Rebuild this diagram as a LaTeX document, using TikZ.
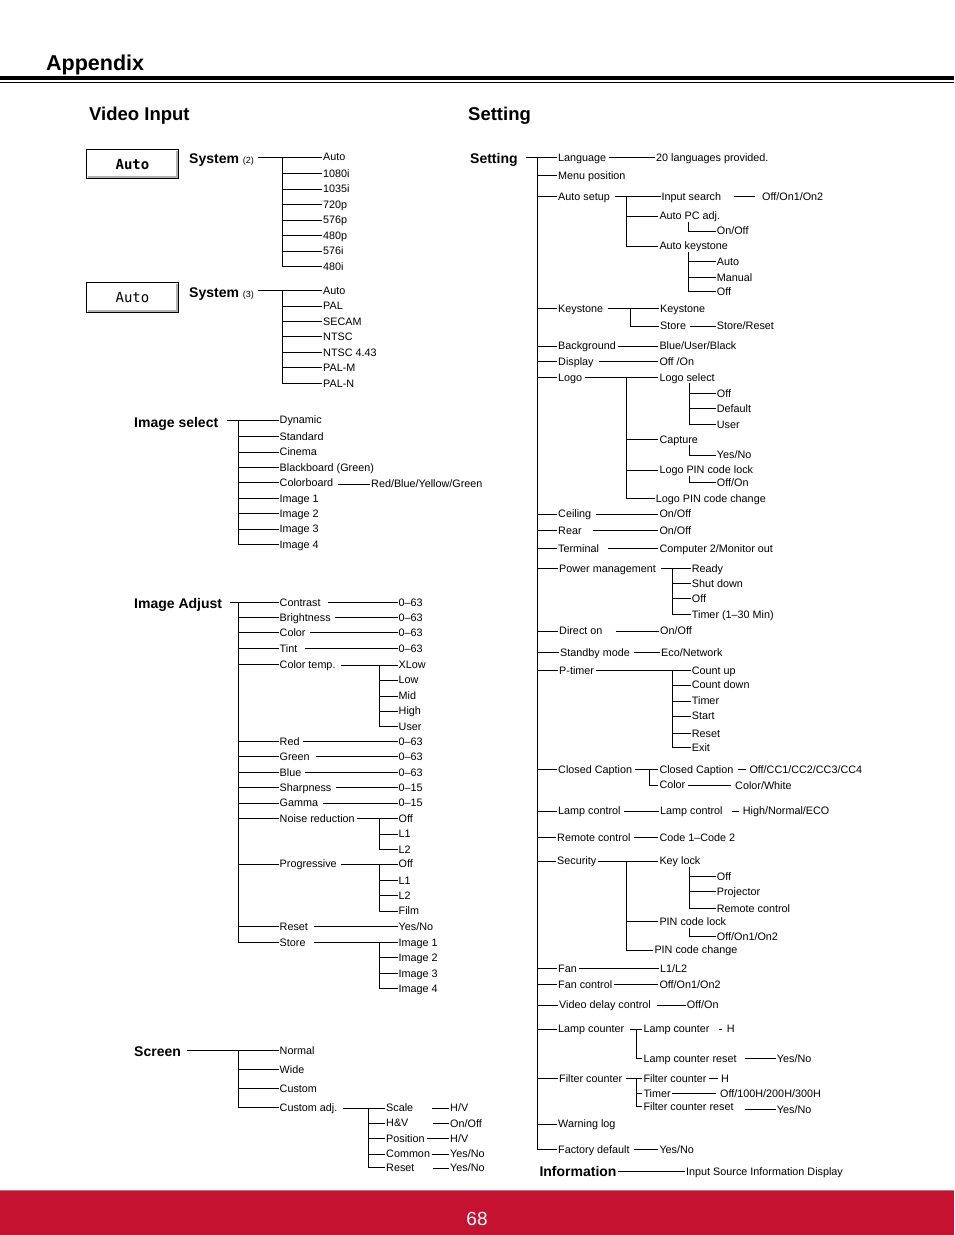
\documentclass[tikz,border=0pt]{standalone}
\usepackage{fontspec}
\setmainfont{Liberation Sans}
\newfontfamily\boxfont{DejaVu Sans Mono}
\definecolor{footred}{HTML}{C41230}
\newcommand\T[4]{\node[lab] (#1) at (#2,#3) {#4};}
\newcommand\lk[3][3]{\draw[ln] (#3.west -| #2.east) ++(#1pt,0) -- (#3.west);}
\newcommand\lkd[4]{\draw[ln] (#4.west -| #3.east) ++(#1pt,0) -- ([xshift=-#2pt]#4.west);}
\newcommand\fk[3]{\coordinate (fkc) at (#1,0);\foreach \ch in {#3}{\draw[ln] (fkc |- #2.west) |- (\ch.west);}}
\newcommand\lf[3]{\coordinate (fkc) at (#1,0);\foreach \ch in {#3}{\draw[ln] (fkc |- #2.south) |- (\ch.west);}}
\begin{document}
\begin{tikzpicture}[x=1pt,y=-1pt,
 lab/.style={anchor=west,xshift=-1pt,inner xsep=1pt,inner ysep=0pt,text height=9.7pt,text depth=2pt,font=\fontsize{10.8}{12}\selectfont},
 hd/.style={anchor=west,inner xsep=0pt,inner ysep=0pt,text height=12pt,text depth=2pt,font=\bfseries\fontsize{14}{16}\selectfont},
 ln/.style={line width=0.8pt},
 ttl/.style={anchor=west,inner sep=0pt,font=\bfseries\fontsize{18.5}{20}\selectfont},
 autobox/.style={minimum width=91pt,minimum height=28pt,inner sep=0pt,fill=white}]
\useasboundingbox (0,0) rectangle (954,1235);
% header
\node[anchor=west,inner sep=0pt,font=\bfseries\fontsize{21.5}{24}\selectfont] (appx) at (46,65) {Appendix};
\fill (0,76) rectangle (954,80);
\fill (0,81.6) rectangle (954,83);
\node[ttl] (vi) at (89,116) {Video Input};
\node[ttl] (st) at (468,116) {Setting};
% boxes
\node[autobox,font=\boxfont\bfseries\fontsize{14}{16}\selectfont] (box1) at (132.5,164) {Auto};
\node[autobox,minimum height=29pt,font=\boxfont\fontsize{14}{16}\selectfont] (box2) at (132.5,297.5) {Auto};
\foreach \b in {box1,box2}{
 \draw[line width=0.7pt] (\b.south west) rectangle (\b.north east);
 \draw[gray!60,line width=2pt] ([shift={(1pt,1pt)}]\b.south west) -| ([shift={(-1pt,-1pt)}]\b.north east);}
% System (2)
\node[hd] (sys2) at (189,158.7) {System {\mdseries\fontsize{9}{10}\selectfont(2)}};
\T{s2a}{323}{157}{Auto}\T{s2b}{323}{173.3}{1080i}\T{s2c}{323}{189}{1035i}\T{s2d}{323}{204.3}{720p}
\T{s2e}{323}{220}{576p}\T{s2f}{323}{235.7}{480p}\T{s2g}{323}{251}{576i}\T{s2h}{323}{266.7}{480i}
\lk[4]{sys2}{s2a}\fk{282.5}{s2a}{s2a,s2b,s2c,s2d,s2e,s2f,s2g,s2h}
% System (3)
\node[hd] (sys3) at (189,292) {System {\mdseries\fontsize{9}{10}\selectfont(3)}};
\T{s3a}{323}{290.7}{Auto}\T{s3b}{323}{306}{PAL}\T{s3c}{323}{321.7}{SECAM}\T{s3d}{323}{336.7}{NTSC}
\T{s3e}{323}{352.3}{NTSC 4.43}\T{s3f}{323}{367.7}{PAL-M}\T{s3g}{323}{383.3}{PAL-N}
\lk[4]{sys3}{s3a}\fk{282.5}{s3a}{s3a,s3b,s3c,s3d,s3e,s3f,s3g}
% Image select
\node[hd] (isel) at (134,422) {Image select};
\T{i1}{279.5}{420}{Dynamic}\T{i2}{279.5}{436.7}{Standard}\T{i3}{279.5}{452}{Cinema}
\T{i4}{279.5}{467.3}{Blackboard (Green)}\T{i5}{279.5}{482.5}{Colorboard}\T{i6}{279.5}{498.3}{Image 1}
\T{i7}{279.5}{513.5}{Image 2}\T{i8}{279.5}{529}{Image 3}\T{i9}{279.5}{544.3}{Image 4}
\T{i5v}{371}{484}{Red/Blue/Yellow/Green}
\lk[9]{isel}{i1}\fk{238}{i1}{i1,i2,i3,i4,i5,i6,i7,i8,i9}\lk[4]{i5}{i5v}
% Image Adjust
\node[hd] (iadj) at (134,603.5) {Image Adjust};
\T{a1}{279.5}{602.7}{Contrast}\T{a2}{279.5}{617.3}{Brightness}\T{a3}{279.5}{632.3}{Color}
\T{a4}{279.5}{648.3}{Tint}\T{a5}{279.5}{664.5}{Color temp.}\T{a6}{279.5}{741.7}{Red}
\T{a7}{279.5}{756.5}{Green}\T{a8}{279.5}{772.3}{Blue}\T{a9}{279.5}{787.3}{Sharpness}
\T{a10}{279.5}{803}{Gamma}\T{a11}{279.5}{818.3}{Noise reduction}\T{a12}{279.5}{864}{Progressive}
\T{a13}{279.5}{926.7}{Reset}\T{a14}{279.5}{942.7}{Store}
\T{v1}{398.5}{602.7}{0–63}\T{v2}{398.5}{617.3}{0–63}\T{v3}{398.5}{632.3}{0–63}\T{v4}{398.5}{648.3}{0–63}
\T{ct1}{398.5}{665}{XLow}\T{ct2}{398.5}{680}{Low}\T{ct3}{398.5}{696}{Mid}\T{ct4}{398.5}{711}{High}\T{ct5}{398.5}{726.7}{User}
\T{v6}{398.5}{741.7}{0–63}\T{v7}{398.5}{756.5}{0–63}\T{v8}{398.5}{772.3}{0–63}\T{v9}{398.5}{787.3}{0–15}\T{v10}{398.5}{803}{0–15}
\T{nr1}{398.5}{818.3}{Off}\T{nr2}{398.5}{834}{L1}\T{nr3}{398.5}{849.3}{L2}
\T{pr1}{398.5}{864}{Off}\T{pr2}{398.5}{880.3}{L1}\T{pr3}{398.5}{895.7}{L2}\T{pr4}{398.5}{911}{Film}
\T{v13}{398.5}{926.7}{Yes/No}
\T{sto1}{398.5}{942.7}{Image 1}\T{sto2}{398.5}{957.7}{Image 2}\T{sto3}{398.5}{973.3}{Image 3}\T{sto4}{398.5}{988.7}{Image 4}
\lk[7.5]{iadj}{a1}\fk{238}{a1}{a1,a2,a3,a4,a5,a6,a7,a8,a9,a10,a11,a12,a13,a14}
\lk[6]{a1}{v1}\lk[3.5]{a2}{v2}\lk[3]{a3}{v3}\lk[6]{a4}{v4}
\lk[4]{a5}{ct1}\fk{379.3}{ct1}{ct2,ct3,ct4,ct5}
\lk[2]{a6}{v6}\lk[5]{a7}{v7}\lk[2]{a8}{v8}\lk[3]{a9}{v9}\lk[4]{a10}{v10}
\lk[1]{a11}{nr1}\fk{379.3}{nr1}{nr2,nr3}
\lk[3]{a12}{pr1}\fk{379.3}{pr1}{pr2,pr3,pr4}
\lk[5]{a13}{v13}
\lk[7]{a14}{sto1}\fk{379.3}{sto1}{sto2,sto3,sto4}
% Screen
\node[hd] (scr) at (134,1051) {Screen};
\T{sc1}{279.5}{1050.5}{Normal}\T{sc2}{279.5}{1069.3}{Wide}\T{sc3}{279.5}{1088.3}{Custom}\T{sc4}{279.5}{1107.5}{Custom adj.}
\T{ca1}{386}{1108}{Scale}\T{ca2}{386}{1123}{H\&V}\T{ca3}{386}{1138.5}{Position}\T{ca4}{386}{1154}{Common}\T{ca5}{386}{1167.5}{Reset}
\T{cv1}{450}{1108}{H/V}\T{cv2}{450}{1123.5}{On/Off}\T{cv3}{450}{1138.5}{H/V}\T{cv4}{450}{1154}{Yes/No}\T{cv5}{450}{1168}{Yes/No}
\lk[6]{scr}{sc1}\fk{238}{sc1}{sc1,sc2,sc3,sc4}
\lk[4]{sc4}{ca1}\fk{368.3}{ca1}{ca2,ca3,ca4,ca5}
\lk[18]{ca1}{cv1}\lk[23]{ca2}{cv2}\lk[1]{ca3}{cv3}\lk[0.5]{ca4}{cv4}\lk[17]{ca5}{cv5}
% Setting tree
\node[hd] (sett) at (470,158.3) {Setting};
\T{m1}{558}{157.7}{Language}\T{m2}{558}{175.7}{Menu position}\T{m3}{558}{196.7}{Auto setup}
\T{m4}{558}{308.3}{Keystone}\T{m5}{558}{346}{Background}\T{m6}{558}{361.7}{Display}
\T{m7}{558}{377.3}{Logo}\T{m8}{558}{514}{Ceiling}\T{m9}{558}{530.7}{Rear}
\T{m10}{558}{548.3}{Terminal}\T{m11}{559}{568.3}{Power management}\T{m12}{559}{631}{Direct on}
\T{m13}{560}{652.3}{Standby mode}\T{m14}{559}{670.7}{P-timer}\T{m15}{558}{769.3}{Closed Caption}
\T{m16}{558}{811}{Lamp control}\T{m17}{557}{837.7}{Remote control}\T{m18}{557}{861}{Security}
\T{m19}{558}{968.3}{Fan}\T{m20}{558}{984.3}{Fan control}\T{m21}{559}{1005}{Video delay control}
\T{m22}{558}{1029}{Lamp counter}\T{m23}{559}{1078.3}{Filter counter}\T{m24}{558}{1124}{Warning log}
\T{m25}{558}{1149.3}{Factory default}
\lk[8]{sett}{m1}
\fk{537.5}{m1}{m1,m2,m3,m4,m5,m6,m7,m8,m9,m10,m11,m12,m13,m14,m15,m16,m17,m18,m19,m20,m21,m22,m23,m24,m25}
\T{m1v}{656}{157.7}{20 languages provided.}\lk[2]{m1}{m1v}
\T{as1}{661.5}{196.7}{Input search}\T{as1v}{762}{196.7}{Off/On1/On2}
\T{as2}{659.3}{216}{Auto PC adj.}\T{as2v}{716.7}{231}{On/Off}
\T{as3}{659.3}{246}{Auto keystone}\T{ak1}{716.7}{261.7}{Auto}\T{ak2}{716.7}{277.3}{Manual}\T{ak3}{716.7}{291.7}{Off}
\lk[4]{m3}{as1}\fk{626.7}{as1}{as2,as3}\lkd{12}{6}{as1}{as1v}
\lf{688.3}{as2}{as2v}\lf{688.3}{as3}{ak1,ak2,ak3}
\T{ks1}{660}{308.3}{Keystone}\T{ks2}{660}{326}{Store}\T{ks2v}{716.7}{326}{Store/Reset}
\lk[4]{m4}{ks1}\fk{630}{ks1}{ks2}\lk[3]{ks2}{ks2v}
\T{m5v}{659.3}{346}{Blue/User/Black}\lk[1]{m5}{m5v}
\T{m6v}{659.3}{361.7}{Off /On}\lk[4]{m6}{m6v}
\T{lg1}{659.3}{377.3}{Logo select}\T{ls1}{716.7}{393.3}{Off}\T{ls2}{716.7}{408.3}{Default}\T{ls3}{716.7}{424.3}{User}
\T{lg2}{659.3}{439.3}{Capture}\T{lg2v}{716.7}{455}{Yes/No}
\T{lg3}{659.3}{470}{Logo PIN code lock}\T{lg3v}{716.7}{482.7}{Off/On}
\T{lg4}{655.7}{498.3}{Logo PIN code change}
\lk[2]{m7}{lg1}\fk{626.7}{lg1}{lg2,lg3,lg4}
\lf{689}{lg1}{ls1,ls2,ls3}\lf{689}{lg2}{lg2v}\lf{689}{lg3}{lg3v}
\T{m8v}{659.3}{514}{On/Off}\lk[4]{m8}{m8v}
\T{m9v}{659.3}{530.7}{On/Off}\lk[10]{m9}{m9v}
\T{m10v}{659.3}{548.3}{Computer 2/Monitor out}\lk[8]{m10}{m10v}
\T{pm1}{691.7}{568.3}{Ready}\T{pm2}{691.7}{583.3}{Shut down}\T{pm3}{691.7}{598.3}{Off}\T{pm4}{691.7}{614.3}{Timer (1–30 Min)}
\lk[4]{m11}{pm1}\fk{672.3}{pm1}{pm2,pm3,pm4}
\T{m12v}{660}{631}{On/Off}\lk[12]{m12}{m12v}
\T{m13v}{661}{652.3}{Eco/Network}\lk[3]{m13}{m13v}
\T{pt1}{691.7}{670.7}{Count up}\T{pt2}{691.7}{685}{Count down}\T{pt3}{691.7}{701}{Timer}
\T{pt4}{691.7}{716}{Start}\T{pt5}{691.7}{733.3}{Reset}\T{pt6}{691.7}{747.7}{Exit}
\lk[1]{m14}{pt1}\fk{672.3}{pt1}{pt2,pt3,pt4,pt5,pt6}
\T{cc1}{659.3}{769.3}{Closed Caption}\T{cc1v}{749.3}{769.3}{Off/CC1/CC2/CC3/CC4}
\T{cc2}{659.3}{785}{Color}\T{cc2v}{735}{785.7}{Color/White}
\lk[1.5]{m15}{cc1}\fk{649}{cc1}{cc2}\lkd{3}{2}{cc1}{cc1v}\lkd{1}{3}{cc2}{cc2v}
\T{lc1}{660}{811}{Lamp control}\T{lc1v}{742.7}{811}{High/Normal/ECO}
\lk[2]{m16}{lc1}\lkd{8}{3}{lc1}{lc1v}
\T{m17v}{659.3}{837.7}{Code 1–Code 2}\lk[2]{m17}{m17v}
\T{sec1}{659.3}{861}{Key lock}\T{kl1}{716.7}{876.7}{Off}\T{kl2}{716.7}{891.7}{Projector}\T{kl3}{716.7}{908.3}{Remote control}
\T{sec2}{659.3}{921.7}{PIN code lock}\T{sec2v}{716.7}{936.7}{Off/On1/On2}
\T{sec3}{654.3}{950}{PIN code change}
\lk[1]{m18}{sec1}\fk{626.7}{sec1}{sec2,sec3}\lf{689}{sec1}{kl1,kl2,kl3}\lf{689}{sec2}{sec2v}
\T{m19v}{660}{968.3}{L1/L2}\lk[1]{m19}{m19v}
\T{m20v}{659.3}{984.3}{Off/On1/On2}\lk[1]{m20}{m20v}
\T{m21v}{686.7}{1005}{Off/On}\lk[5]{m21}{m21v}
\T{lcn1}{643.3}{1029}{Lamp counter}\T{lcn1v}{726.7}{1029}{H}
\T{lcn2}{643.3}{1058.3}{Lamp counter reset}\T{lcn2v}{776.7}{1058.3}{Yes/No}
\lk[5]{m22}{lcn1}\fk{636}{lcn1}{lcn2}\lkd{8}{4}{lcn1}{lcn1v}\lk[7]{lcn2}{lcn2v}
\T{fc1}{643.3}{1078.3}{Filter counter}\T{fc1v}{721}{1078.3}{H}
\T{fc2}{643.3}{1093.3}{Timer}\T{fc2v}{720}{1093.3}{Off/100H/200H/300H}
\T{fc3}{643.3}{1106.7}{Filter counter reset}\T{fc3v}{776.7}{1109.3}{Yes/No}
\lk[3]{m23}{fc1}\fk{636}{fc1}{fc2,fc3}\lkd{1}{2}{fc1}{fc1v}\lkd{0}{3}{fc2}{fc2v}\lk[10]{fc3}{fc3v}
\T{m25v}{659.3}{1149.3}{Yes/No}\lk[3]{m25}{m25v}
\node[hd] (info) at (539.3,1171) {Information};
\T{infov}{686}{1171.7}{Input Source Information Display}\lk[1]{info}{infov}
% footer
\fill[footred] (0,1190) rectangle (954,1235);
\draw[footred!65!white,line width=1pt] (0,1190.5) -- (954,1190.5);
\node[text=white,inner sep=0pt,font=\fontsize{19}{21}\selectfont] (pg) at (477,1219) {68};
\end{tikzpicture}
\end{document}
